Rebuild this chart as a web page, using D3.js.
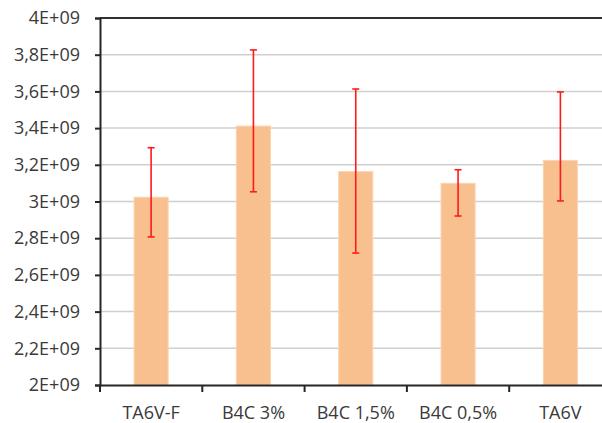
<!DOCTYPE html>
<html><head><meta charset="utf-8">
<script src="https://cdn.jsdelivr.net/npm/d3@7"></script>
<style>body{margin:0;background:#fff;}svg{display:block;}</style>
</head><body>
<svg id="c" width="602" height="423"></svg>
<script>
const categories = ["TA6V-F", "B4C 3%", "B4C 1,5%", "B4C 0,5%", "TA6V"];
const values = [3.023e9, 3.411e9, 3.163e9, 3.099e9, 3.224e9];
const errLow = [2.807e9, 3.053e9, 2.719e9, 2.921e9, 3.003e9];
const errHigh = [3.293e9, 3.826e9, 3.613e9, 3.173e9, 3.597e9];
const yTicks = [2e9, 2.2e9, 2.4e9, 2.6e9, 2.8e9, 3e9, 3.2e9, 3.4e9, 3.6e9, 3.8e9, 4e9];
const yTickLabels = ["2E+09","2,2E+09","2,4E+09","2,6E+09","2,8E+09","3E+09","3,2E+09","3,4E+09","3,6E+09","3,8E+09","4E+09"];

const svg = d3.select("#c");
const L = 100, T = 18, B = 385, R = 611.5;
const x = d3.scaleBand().domain(categories).range([L, R]).paddingInner(0.667).paddingOuter(0.333);
const xb = d3.scaleBand().domain(categories).range([L, R]);
const y = d3.scaleLinear().domain([2e9, 4e9]).range([B, T]);
const font = "'Open Sans', sans-serif";

// gridlines
svg.append("g").selectAll("line").data(yTicks.slice(1, -1)).join("line")
  .attr("x1", L).attr("x2", R).attr("y1", d => y(d)).attr("y2", d => y(d))
  .attr("stroke", "#cfcfcf").attr("stroke-width", 1.5);
// top line
svg.append("line").attr("x1", L).attr("x2", R).attr("y1", y(4e9)).attr("y2", y(4e9))
  .attr("stroke", "#303030").attr("stroke-width", 2);

// bars
svg.append("g").selectAll("rect").data(categories).join("rect")
  .attr("x", d => x(d)).attr("width", x.bandwidth())
  .attr("y", (d, i) => y(values[i])).attr("height", (d, i) => B - y(values[i]))
  .attr("fill", "#f9c08f").attr("stroke", "#fcd3b0").attr("stroke-width", 1);

// error bars
const eg = svg.append("g").attr("stroke", "#ff1a1a").attr("stroke-width", 1.6);
categories.forEach((c, i) => {
  const cx = x(c) + x.bandwidth() / 2;
  eg.append("line").attr("x1", cx).attr("x2", cx).attr("y1", y(errLow[i])).attr("y2", y(errHigh[i]));
  eg.append("line").attr("x1", cx - 3.5).attr("x2", cx + 3.5).attr("y1", y(errLow[i])).attr("y2", y(errLow[i]));
  eg.append("line").attr("x1", cx - 3.5).attr("x2", cx + 3.5).attr("y1", y(errHigh[i])).attr("y2", y(errHigh[i]));
});

// y axis
const yAxis = d3.axisLeft(y).tickValues(yTicks).tickSize(5).tickPadding(15)
  .tickFormat((d, i) => yTickLabels[i]);
const gy = svg.append("g").attr("transform", `translate(${L},0)`).call(yAxis);
gy.select(".domain").attr("stroke", "#262626").attr("stroke-width", 2);
gy.selectAll(".tick line").attr("stroke", "#262626").attr("stroke-width", 2);
gy.selectAll("text").attr("font-family", font).attr("font-size", 18).attr("fill", "#3a3a3a");

// x axis
const xAxis = d3.axisBottom(xb).tickSize(0).tickPadding(21);
const gx = svg.append("g").attr("transform", `translate(0,${B})`).call(xAxis);
gx.select(".domain").attr("stroke", "#262626").attr("stroke-width", 2);
gx.selectAll("text").attr("font-family", font).attr("font-size", 18).attr("fill", "#3a3a3a");
// x tick marks at band boundaries
svg.append("g").selectAll("line").data(categories).join("line")
  .attr("x1", d => xb(d)).attr("x2", d => xb(d)).attr("y1", B).attr("y2", B + 7)
  .attr("stroke", "#262626").attr("stroke-width", 2);
</script>
</body></html>
